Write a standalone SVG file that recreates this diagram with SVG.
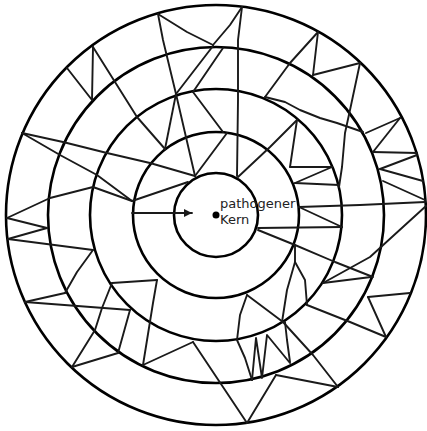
<svg xmlns="http://www.w3.org/2000/svg" width="427" height="431" viewBox="0 0 427 431">
<style>
.ring{fill:none;stroke:#000;stroke-width:2.6}
.web polyline{fill:none;stroke:#1a1a1a;stroke-width:1.9;stroke-linejoin:round;stroke-linecap:round}
.lbl{font-family:"DejaVu Sans",Verdana,sans-serif;font-size:13px;fill:#222}
</style>
<defs>
<marker id="ah" viewBox="0 0 10 10" refX="10" refY="5" markerWidth="9" markerHeight="8" markerUnits="userSpaceOnUse" orient="auto">
<path d="M0,0 L10,5 L0,10 z" fill="#1a1a1a"/>
</marker>
</defs>
<rect width="427" height="431" fill="#fff"/>
<g id="rings">
<circle class="ring" cx="216" cy="215" r="210"/>
<circle class="ring" cx="216" cy="215" r="168"/>
<circle class="ring" cx="216" cy="215" r="126"/>
<circle class="ring" cx="216" cy="215" r="83"/>
<circle id="kern-circle" class="ring" cx="216" cy="215" r="42"/>
</g>
<g id="connectors" class="web">
<polyline points="93,47 115,82 137,117 165,149"/>
<polyline points="67,68 92,100"/>
<polyline points="93,47 92,100"/>
<polyline points="158,14 187,32 213,45"/>
<polyline points="158,14 163,40 176,94"/>
<polyline points="242,7 230,25 213,45"/>
<polyline points="213,46 176,94"/>
<polyline points="223,48 193,92"/>
<polyline points="193,92 223,132"/>
<polyline points="176,94 165,149"/>
<polyline points="176,94 195,176"/>
<polyline points="227,133 195,176"/>
<polyline points="242,7 238,40 238,100 237,176"/>
<polyline points="318,32 313,75"/>
<polyline points="313,75 360,63"/>
<polyline points="318,32 290,63 265,97"/>
<polyline points="265,97 285,102 300,110 320,118 337,123 363,132"/>
<polyline points="360,63 350,110 345,133 342,167 339,187"/>
<polyline points="297,120 270,147 238,177"/>
<polyline points="297,120 290,167"/>
<polyline points="290,167 332,167"/>
<polyline points="332,167 295,183"/>
<polyline points="295,183 339,185"/>
<polyline points="366,133 400,118"/>
<polyline points="400,118 373,152"/>
<polyline points="373,152 417,153"/>
<polyline points="417,155 380,169"/>
<polyline points="380,169 423,181"/>
<polyline points="383,181 425,200"/>
<polyline points="299,207 360,205 425,202"/>
<polyline points="299,207 342,227"/>
<polyline points="258,228 342,227"/>
<polyline points="258,230 295,245 335,262 373,277"/>
<polyline points="323,283 371,277"/>
<polyline points="323,283 370,257 426,206"/>
<polyline points="295,245 295,262 287,290 282,322"/>
<polyline points="295,262 305,280 307,305"/>
<polyline points="307,305 350,322 386,337"/>
<polyline points="368,297 410,293"/>
<polyline points="368,297 386,337"/>
<polyline points="247,295 240,315 237,340 245,358 252,380"/>
<polyline points="247,295 283,322"/>
<polyline points="283,322 313,355 338,387"/>
<polyline points="285,322 287,340 290,362"/>
<polyline points="252,380 256,338 262,378 267,335 290,363"/>
<polyline points="276,375 338,387"/>
<polyline points="276,375 247,423"/>
<polyline points="247,423 213,372 193,342"/>
<polyline points="193,342 143,365"/>
<polyline points="143,365 153,303 157,280"/>
<polyline points="157,280 112,283"/>
<polyline points="112,283 102,308 95,330 72,367"/>
<polyline points="72,367 118,353"/>
<polyline points="118,353 130,310"/>
<polyline points="130,310 25,302"/>
<polyline points="25,302 65,293"/>
<polyline points="65,293 77,272 93,250"/>
<polyline points="93,250 8,239"/>
<polyline points="8,239 47,228"/>
<polyline points="47,228 7,218"/>
<polyline points="7,218 50,198 93,187 132,201"/>
<polyline points="132,201 188,182"/>
<polyline points="22,133 60,155 97,175 132,201"/>
<polyline points="22,133 63,142 107,153 150,163 195,176"/>
<polyline points="132,213 192,213" marker-end="url(#ah)"/>
</g>
<g id="kern">
<circle cx="216" cy="215" r="3.5" fill="#000"/>
<text class="lbl" x="220" y="208">pathogener</text>
<text class="lbl" x="220" y="224">Kern</text>
</g>
</svg>
